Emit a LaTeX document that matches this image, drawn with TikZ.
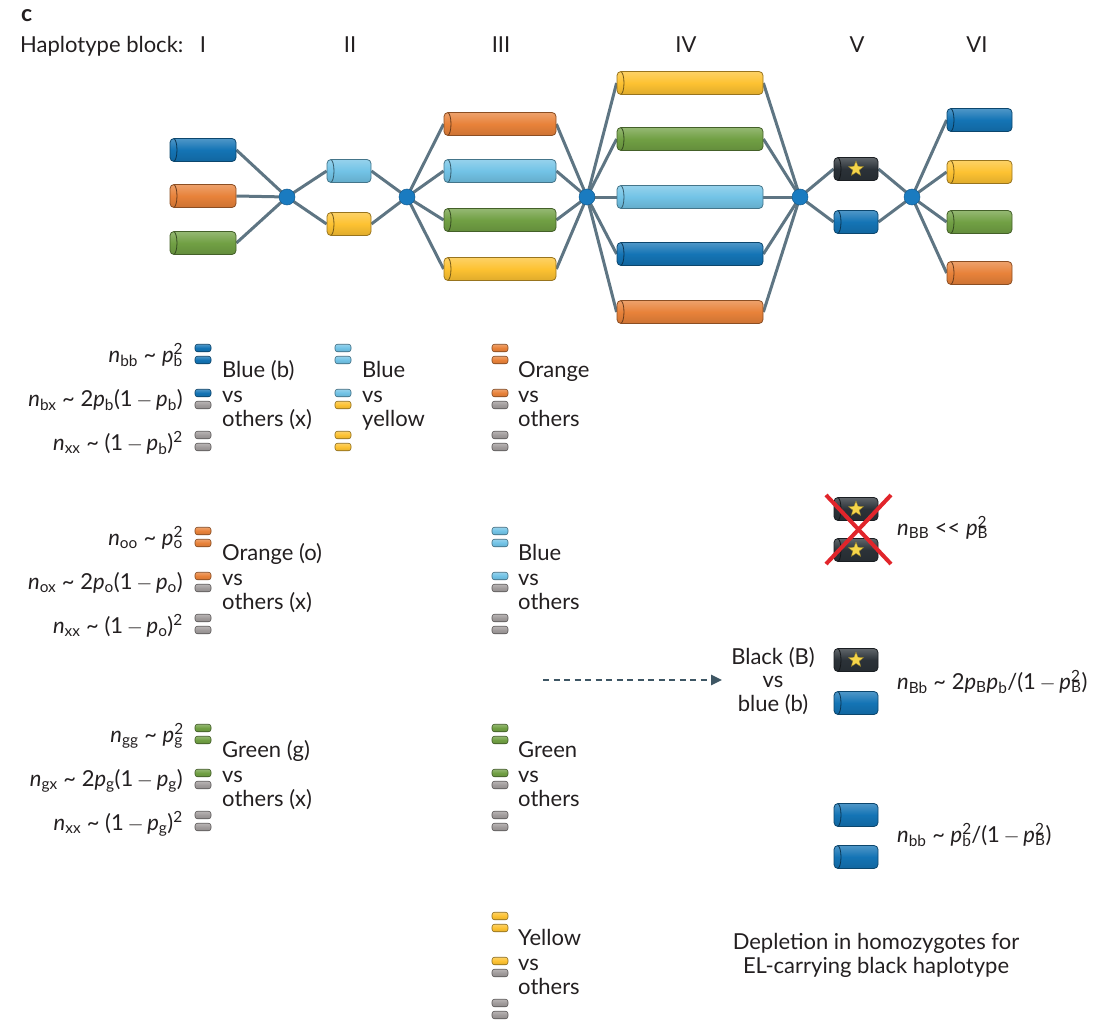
\documentclass[tikz,border=0pt]{standalone}
\usepackage{fontspec}
\setmainfont{Lato}
\usetikzlibrary{shapes.geometric,arrows.meta,backgrounds}
\definecolor{cBlue}{HTML}{1474B5}
\definecolor{cLBlue}{HTML}{72C3E6}
\definecolor{cOrange}{HTML}{E8823A}
\definecolor{cGreen}{HTML}{71A044}
\definecolor{cYellow}{HTML}{FDC232}
\definecolor{cGray}{HTML}{A19C9C}
\definecolor{cBlack}{HTML}{2B3238}
\definecolor{cLine}{HTML}{5E7583}
\definecolor{cDot}{HTML}{1A7BC0}
\definecolor{cRed}{HTML}{E1252B}
\definecolor{cStar}{HTML}{F6D54A}
\definecolor{cArrow}{HTML}{3E5664}
\definecolor{cText}{HTML}{231F20}
\newcommand\nn[1]{\textit{n}\textsubscript{#1}}
\newcommand\pp[1]{\textit{p}\textsubscript{#1}}
\newcommand\ppsq[1]{\textit{p}\rlap{\textsuperscript{2}}\textsubscript{#1}}
\newcommand\mns{\,$-$\,}
\tikzset{
  cyl/.style={rectangle, rounded corners=4pt, draw=#1!60!black, line width=0.8pt,
    top color=#1!75!white, bottom color=#1!88!black, middle color=#1,
    inner sep=0pt, minimum height=23pt,
    path picture={\draw[#1!45!black, line width=0.8pt]
      ([xshift=3.5pt]path picture bounding box.north west)
      arc[start angle=90, end angle=-90, x radius=3.5pt, y radius=11.5pt];}},
  mini/.style={rectangle, rounded corners=2.5pt, draw=#1!55!black, line width=0.6pt,
    top color=#1!75!white, bottom color=#1!90!black, middle color=#1,
    minimum width=16pt, minimum height=7.5pt, inner sep=0pt},
  dot/.style={circle, fill=cDot, draw=cDot!75!black, line width=0.5pt, minimum size=16pt, inner sep=0pt},
  link/.style={draw=cLine, line width=3pt},
  starm/.style={star, star points=5, star point ratio=2.3, fill=cStar, draw=cStar!55!black,
    line width=0.4pt, minimum size=16pt, inner sep=0pt},
  lbl/.style={anchor=base west, inner sep=0pt, text=cText},
  fml/.style={anchor=base east, inner sep=0pt, text=cText},
  fmr/.style={anchor=base west, inner sep=0pt, text=cText},
  darr/.style={draw=cArrow, line width=2.3pt, dash pattern=on 6pt off 4.5pt,
    -{Triangle[length=11pt,width=10pt]}},
  every node/.append style={font=\fontsize{22}{24}\selectfont}
}
\newcommand\pairs[5]{%
  \node[mini=#4] (#1a) at (#2,#3-6) {};
  \node[mini=#5] (#1b) at (#2,#3+6) {};}
\newcommand\lines[6]{%
  \node[lbl] (#1a) at (#2,#3+23) {#4};
  \node[lbl] (#1b) at (#2,#3+48) {#5};
  \node[lbl] (#1c) at (#2,#3+72) {#6};}
\begin{document}
\begin{tikzpicture}[x=1pt,y=-1pt]
\useasboundingbox (0,0) rectangle (1114,1022);
% header
\node[lbl, font=\fontsize{23}{24}\selectfont\bfseries] (lab) at (21,22) {c};
\node[lbl] (hb) at (20,53) {Haplotype block:};
\foreach \t/\x/\n in {I/203/n1, II/350/n2, III/501/n3, IV/686/n4, V/857/n5, VI/977/n6}
  \node[anchor=base, inner sep=0pt, text=cText] (\n) at (\x,53) {\t};
% block I
\node[cyl=cBlue, minimum width=66pt] (I1) at (203,150) {};
\node[cyl=cOrange, minimum width=66pt] (I2) at (203,196) {};
\node[cyl=cGreen, minimum width=66pt] (I3) at (203,243) {};
\node[dot] (d1) at (287,197) {};
% block II
\node[cyl=cLBlue, minimum width=44pt] (II1) at (349,171) {};
\node[cyl=cYellow, minimum width=44pt] (II2) at (349,224) {};
\node[dot] (d2) at (407,197) {};
% block III
\node[cyl=cOrange, minimum width=112pt] (III1) at (500,124) {};
\node[cyl=cLBlue, minimum width=112pt] (III2) at (500,171) {};
\node[cyl=cGreen, minimum width=112pt] (III3) at (500,220) {};
\node[cyl=cYellow, minimum width=112pt] (III4) at (500,269) {};
\node[dot] (d3) at (587,197) {};
% block IV
\node[cyl=cYellow, minimum width=146pt] (IV1) at (690,83) {};
\node[cyl=cGreen, minimum width=146pt] (IV2) at (690,139) {};
\node[cyl=cLBlue, minimum width=146pt] (IV3) at (690,197) {};
\node[cyl=cBlue, minimum width=146pt] (IV4) at (690,254) {};
\node[cyl=cOrange, minimum width=146pt] (IV5) at (690,312) {};
\node[dot] (d4) at (800,197) {};
% block V
\node[cyl=cBlack, minimum width=44pt] (V1) at (856,169) {};
\node[starm] (V1s) at (V1) {};
\node[cyl=cBlue, minimum width=44pt] (V2) at (856,222) {};
\node[dot] (d5) at (912,197) {};
% block VI
\node[cyl=cBlue, minimum width=65pt] (VI1) at (979.5,120) {};
\node[cyl=cYellow, minimum width=65pt] (VI2) at (979.5,172) {};
\node[cyl=cGreen, minimum width=65pt] (VI3) at (979.5,222) {};
\node[cyl=cOrange, minimum width=65pt] (VI4) at (979.5,273) {};
% links
\begin{pgfonlayer}{background}
\foreach \c in {I1,I2,I3} \draw[link] (\c.east) -- (d1.center);
\foreach \c in {II1,II2} {\draw[link] (d1.center) -- (\c.west); \draw[link] (\c.east) -- (d2.center);}
\foreach \c in {III1,III2,III3,III4} {\draw[link] (d2.center) -- (\c.west); \draw[link] (\c.east) -- (d3.center);}
\foreach \c in {IV1,IV2,IV3,IV4,IV5} {\draw[link] (d3.center) -- (\c.west); \draw[link] (\c.east) -- (d4.center);}
\foreach \c in {V1,V2} {\draw[link] (d4.center) -- (\c.west); \draw[link] (\c.east) -- (d5.center);}
\foreach \c in {VI1,VI2,VI3,VI4} \draw[link] (d5.center) -- (\c.west);
\end{pgfonlayer}
% ---- legend: blue vs others (I)
\node[fml] (fb1) at (183,362) {\nn{bb} \textasciitilde{} \ppsq{b}};
\node[fml] (fb2) at (183,406) {\nn{bx} \textasciitilde{} 2\pp{b}(1\mns\pp{b})};
\node[fml] (fb3) at (183,450) {\nn{xx} \textasciitilde{} (1\mns\pp{b})\textsuperscript{2}};
\pairs{pb1}{203}{354}{cBlue}{cBlue}
\pairs{pb2}{203}{399}{cBlue}{cGray}
\pairs{pb3}{203}{441}{cGray}{cGray}
\lines{tb}{222}{354}{Blue (b)}{vs}{others (x)}
% orange vs others (I)
\node[fml] (fo1) at (183,545) {\nn{oo} \textasciitilde{} \ppsq{o}};
\node[fml] (fo2) at (183,589) {\nn{ox} \textasciitilde{} 2\pp{o}(1\mns\pp{o})};
\node[fml] (fo3) at (183,633) {\nn{xx} \textasciitilde{} (1\mns\pp{o})\textsuperscript{2}};
\pairs{po1}{203}{537}{cOrange}{cOrange}
\pairs{po2}{203}{582}{cOrange}{cGray}
\pairs{po3}{203}{624}{cGray}{cGray}
\lines{to}{222}{537}{Orange (o)}{vs}{others (x)}
% green vs others (I)
\node[fml] (fg1) at (183,742) {\nn{gg} \textasciitilde{} \ppsq{g}};
\node[fml] (fg2) at (183,786) {\nn{gx} \textasciitilde{} 2\pp{g}(1\mns\pp{g})};
\node[fml] (fg3) at (183,830) {\nn{xx} \textasciitilde{} (1\mns\pp{g})\textsuperscript{2}};
\pairs{pg1}{203}{734}{cGreen}{cGreen}
\pairs{pg2}{203}{779}{cGreen}{cGray}
\pairs{pg3}{203}{821}{cGray}{cGray}
\lines{tg}{222}{734}{Green (g)}{vs}{others (x)}
% blue vs yellow (II)
\pairs{q1}{343}{354}{cLBlue}{cLBlue}
\pairs{q2}{343}{399}{cLBlue}{cYellow}
\pairs{q3}{343}{441}{cYellow}{cYellow}
\lines{tq}{362}{354}{Blue}{vs}{yellow}
% III groups
\pairs{r1}{500}{354}{cOrange}{cOrange}
\pairs{r2}{500}{399}{cOrange}{cGray}
\pairs{r3}{500}{441}{cGray}{cGray}
\lines{tr}{518}{354}{Orange}{vs}{others}
\pairs{s1}{500}{537}{cLBlue}{cLBlue}
\pairs{s2}{500}{582}{cLBlue}{cGray}
\pairs{s3}{500}{624}{cGray}{cGray}
\lines{ts}{518}{537}{Blue}{vs}{others}
\pairs{u1}{500}{734}{cGreen}{cGreen}
\pairs{u2}{500}{779}{cGreen}{cGray}
\pairs{u3}{500}{821}{cGray}{cGray}
\lines{tu}{518}{734}{Green}{vs}{others}
\pairs{w1}{500}{922}{cYellow}{cYellow}
\pairs{w2}{500}{967}{cYellow}{cGray}
\pairs{w3}{500}{1009}{cGray}{cGray}
\lines{tw}{518}{922}{Yellow}{vs}{others}
% ---- right side
\node[cyl=cBlack, minimum width=44pt] (BB1) at (856,509) {};
\node[starm] (BB1s) at (BB1) {};
\node[cyl=cBlack, minimum width=44pt] (BB2) at (856,550) {};
\node[starm] (BB2s) at (BB2) {};
\coordinate (xa) at (826,495);
\coordinate (xb) at (891,564);
\coordinate (xc) at (891,495);
\coordinate (xd) at (826,564);
\draw[cRed, line width=4pt] (xa) -- (xb) (xc) -- (xd);
\node[fmr] (fBB) at (897,535) {\nn{BB} <{}< \ppsq{B}};
\node[align=center, inner sep=0pt, text=cText, font=\fontsize{22}{23.5}\selectfont] (bvb) at (773,681) {Black (B)\\vs\\blue (b)};
\node[cyl=cBlack, minimum width=44pt] (Bb1) at (856,660) {};
\node[starm] (Bb1s) at (Bb1) {};
\node[cyl=cBlue, minimum width=44pt] (Bb2) at (856,703) {};
\node[fmr] (fBb) at (897,689) {\nn{Bb} \textasciitilde{} 2\pp{B}\pp{b}/(1\mns\ppsq{B})};
\node[cyl=cBlue, minimum width=44pt] (bb1) at (856,815) {};
\node[cyl=cBlue, minimum width=44pt] (bb2) at (856,857) {};
\node[fmr] (fbb) at (897,842) {\nn{bb} \textasciitilde{} \ppsq{b}/(1\mns\ppsq{B})};
\coordinate (aS) at (543,680);
\draw[darr] (aS) -- ([xshift=-9pt]aS -| bvb.west);
\node[align=center, inner sep=0pt, text=cText, font=\fontsize{22}{24}\selectfont] (dep) at (876,955) {Depletion in homozygotes for\\EL-carrying black haplotype};
\end{tikzpicture}
\end{document}
